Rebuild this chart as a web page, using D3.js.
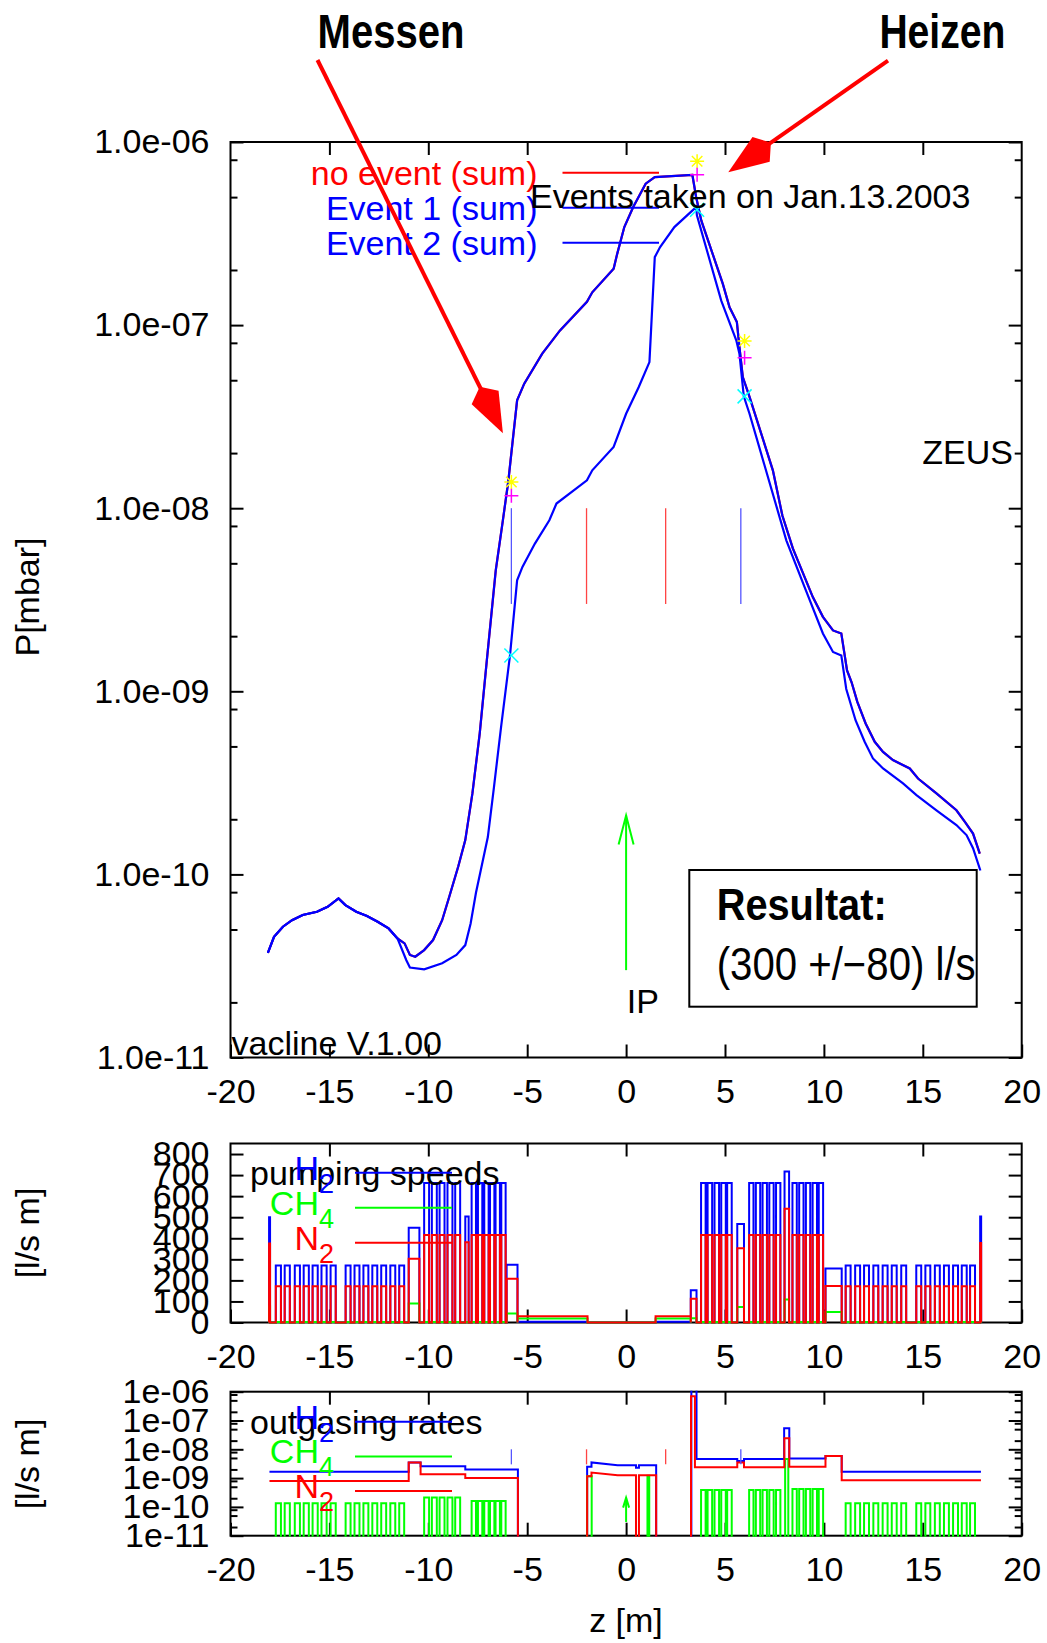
<!DOCTYPE html>
<html>
<head>
<meta charset="utf-8">
<script src="https://cdn.jsdelivr.net/npm/d3@7"></script>
<style>
  body { margin: 0; background: #fff; }
  svg text { font-family: "Liberation Sans", Arial, Helvetica, sans-serif; }
</style>
</head>
<body>
<div id="chart"></div>
<script>
// ---- data ----
var zTicks = [-20, -15, -10, -5, 0, 5, 10, 15, 20];
var pTicks = [1e-6, 1e-7, 1e-8, 1e-9, 1e-10, 1e-11];
var pTickLabels = ["1.0e-06", "1.0e-07", "1.0e-08", "1.0e-09", "1.0e-10", "1.0e-11"];
var rateTickLabels = ["1e-06", "1e-07", "1e-08", "1e-09", "1e-10", "1e-11"];
var minorMantissas = [2, 5, 8];
var speedTicks = [0, 100, 200, 300, 400, 500, 600, 700, 800];

// pressure profiles [z in m, P in mbar]
var eventOne = [
  [-18.11, 3.73e-11], [-17.80, 4.56e-11], [-17.35, 5.18e-11], [-16.89, 5.62e-11],
  [-16.35, 6.0e-11], [-15.63, 6.25e-11], [-15.09, 6.65e-11], [-14.54, 7.4e-11],
  [-14.19, 6.8e-11], [-13.64, 6.25e-11], [-13.10, 5.92e-11], [-12.56, 5.51e-11],
  [-12.01, 5.07e-11], [-11.56, 4.47e-11], [-11.20, 4.2e-11], [-10.93, 3.63e-11],
  [-10.66, 3.55e-11], [-10.21, 3.86e-11], [-9.76, 4.38e-11], [-9.30, 5.62e-11],
  [-8.94, 7.55e-11], [-8.49, 1.1e-10], [-8.13, 1.54e-10], [-7.77, 2.77e-10],
  [-7.40, 5.89e-10], [-7.04, 1.48e-9], [-6.59, 4.58e-9], [-6.23, 8.59e-9],
  [-5.96, 1.39e-8], [-5.51, 3.88e-8], [-5.15, 4.79e-8], [-4.24, 6.98e-8],
  [-3.34, 9.35e-8], [-1.98, 1.34e-7], [-1.71, 1.51e-7], [-0.63, 2.03e-7],
  [-0.45, 2.45e-7], [-0.09, 3.43e-7], [0.36, 4.41e-7], [0.99, 5.92e-7],
  [1.45, 6.43e-7], [3.35, 6.62e-7], [3.54, 5.01e-7], [3.80, 3.73e-7],
  [4.89, 1.68e-7], [5.23, 1.25e-7], [5.60, 1.04e-7], [5.73, 7.59e-8],
  [5.90, 5.2e-8], [6.24, 4.05e-8], [7.42, 1.61e-8], [7.90, 9.12e-9],
  [8.43, 6.03e-9], [9.44, 3.27e-9], [9.95, 2.55e-9], [10.46, 2.15e-9],
  [10.88, 2.07e-9], [11.17, 1.3e-9], [11.40, 1.12e-9], [11.69, 8.75e-10],
  [12.11, 6.67e-10], [12.57, 5.3e-10], [12.99, 4.67e-10], [13.49, 4.21e-10],
  [14.34, 3.79e-10], [14.76, 3.34e-10], [15.69, 2.77e-10], [16.70, 2.24e-10],
  [17.12, 1.94e-10], [17.54, 1.67e-10], [17.88, 1.3e-10]
];
var eventTwo = [
  [-18.11, 3.73e-11], [-17.80, 4.56e-11], [-17.35, 5.18e-11], [-16.89, 5.62e-11],
  [-16.35, 6.0e-11], [-15.63, 6.25e-11], [-15.09, 6.65e-11], [-14.54, 7.4e-11],
  [-14.19, 6.8e-11], [-13.64, 6.25e-11], [-13.10, 5.92e-11], [-12.56, 5.51e-11],
  [-12.01, 5.07e-11], [-11.56, 4.47e-11], [-11.11, 3.4e-11], [-10.93, 3.1e-11],
  [-10.21, 3.03e-11], [-9.30, 3.27e-11], [-8.58, 3.63e-11], [-8.13, 4.11e-11],
  [-7.86, 5.4e-11], [-7.59, 7.94e-11], [-7.35, 1.05e-10], [-6.99, 1.6e-10],
  [-6.68, 3.0e-10], [-6.32, 6.4e-10], [-5.87, 1.57e-9], [-5.51, 4.04e-9],
  [-5.24, 4.78e-9], [-4.61, 6.41e-9], [-3.88, 8.59e-9], [-3.52, 1.06e-8],
  [-1.98, 1.42e-8], [-1.71, 1.61e-8], [-0.63, 2.16e-8], [0.0, 3.28e-8],
  [0.64, 4.59e-8], [1.18, 6.28e-8], [1.45, 2.35e-7], [1.72, 2.67e-7],
  [2.44, 3.43e-7], [3.54, 4.41e-7], [3.58, 3.98e-7], [4.81, 1.36e-7],
  [5.57, 8.26e-8], [5.73, 6.98e-8], [5.95, 4.08e-8], [6.24, 3.28e-8],
  [8.10, 6.68e-9], [9.02, 3.72e-9], [9.95, 2.07e-9], [10.46, 1.64e-9],
  [10.88, 1.57e-9], [11.13, 1.03e-9], [11.60, 6.95e-10], [12.06, 5.3e-10],
  [12.48, 4.3e-10], [12.99, 3.79e-10], [14.0, 3.14e-10], [14.68, 2.71e-10],
  [15.69, 2.24e-10], [16.70, 1.86e-10], [17.21, 1.64e-10], [17.54, 1.39e-10],
  [17.91, 1.05e-10]
];
var noEvent = eventOne; // lies right under Event 1

// gauge marks (vertical lines from 1e-8 to 3e-9)
var gaugeZ = [-5.8, -2, 2, 5.8];
var gaugeColors = ["#5555ff", "#ff4444", "#ff4444", "#5555ff"];
var gaugeRange = [1e-8, 3e-9];
var starPts = [[-5.8, 1.39e-8], [3.59, 7.85e-7], [5.99, 8.18e-8]];
var plusPts = [[-5.8, 1.17e-8], [3.59, 6.62e-7], [5.99, 6.64e-8]];
var crossPts = [[-5.8, 1.57e-9], [3.59, 4.27e-7], [5.99, 4.08e-8]];
var ipArrow = [0, 3e-11, 2.1e-10];

// pump elements, repeated pulses per group
var groupStarts = [
  [-17.71, -17.26, -16.75, -16.30, -15.85, -15.40, -14.94],
  [-14.18, -13.73, -13.28, -12.83, -12.38, -11.92, -11.47],
  [-10.21, -9.82, -9.43, -9.03, -8.64],
  [-7.81, -7.49, -7.17, -6.88, -6.60, -6.31],
  [3.79, 4.12, 4.47, 4.81, 5.11],
  [6.22, 6.56, 6.90, 7.24, 7.58],
  [8.41, 8.75, 9.09, 9.43, 9.74],
  [11.10, 11.58, 12.03, 12.50, 12.97, 13.43, 13.91],
  [14.67, 15.13, 15.61, 16.07, 16.53, 16.97, 17.39]
];
var groupWidth = [0.26, 0.25, 0.25, 0.22, 0.23, 0.22, 0.22, 0.25, 0.25];
var groupH2 = [271, 271, 663, 663, 663, 663, 663, 271, 271];
var groupCH4 = [2, 2, 2, 2, 2, 2, 2, 2, 2];
var groupN2 = [172, 172, 416, 416, 416, 416, 416, 172, 172];
var groupCH4Rate = [1.33e-10, 1.33e-10, 2.1e-10, 1.6e-10, 3.9e-10, 3.9e-10, 4.2e-10, 1.33e-10, 1.33e-10];

// single pump elements [z start, z end, H2, CH4, N2]
var pumpBlocks = [
  [-18.05, -18.0, 500, 77, 375],
  [-10.99, -10.45, 450, 90, 303],
  [-8.13, -7.96, 503, 2, 381],
  [-6.04, -5.49, 274, 43, 208],
  [-5.49, -1.95, 3, 19, 30],
  [1.49, 3.27, 3, 19, 30],
  [3.27, 3.56, 153, 20, 113],
  [5.62, 5.96, 468, 74, 353],
  [8.01, 8.24, 717, 109, 540],
  [10.08, 10.90, 256, 50, 173],
  [17.90, 17.95, 503, 2, 377]
];

// outgassing rates [z, q in l/s m]
var h2Rate = [
  [-18.03, 1.67e-9], [-10.99, 1.67e-9], [-10.99, 3.5e-9], [-10.39, 3.5e-9],
  [-10.39, 2.6e-9], [-8.13, 2.6e-9], [-8.13, 2.0e-9], [-5.47, 2.0e-9],
  [-5.47, 1e-13], [-1.97, 1e-13], [-1.97, 2.5e-9], [-1.75, 2.5e-9],
  [-1.75, 3.5e-9], [-0.43, 2.8e-9], [0.5, 2.8e-9], [0.5, 2.3e-9],
  [0.65, 2.3e-9], [0.65, 2.8e-9], [1.52, 2.8e-9], [1.52, 1e-13],
  [3.30, 1e-13], [3.30, 2e-6], [3.56, 2e-6], [3.56, 4.6e-9],
  [5.62, 4.6e-9], [5.62, 3.9e-9], [5.96, 3.9e-9], [5.96, 4.6e-9],
  [7.99, 4.6e-9], [7.99, 5.4e-8], [8.25, 5.4e-8], [8.25, 4.8e-9],
  [10.08, 4.8e-9], [10.08, 5.9e-9], [10.90, 5.9e-9], [10.90, 1.67e-9],
  [17.94, 1.67e-9]
];
var n2Rate = [
  [-18.03, 7.9e-10], [-10.99, 7.9e-10], [-10.99, 3.5e-9], [-10.39, 3.5e-9],
  [-10.39, 1.35e-9], [-8.13, 1.35e-9], [-8.13, 1.0e-9], [-5.47, 1.0e-9],
  [-5.47, 1e-13], [-1.97, 1e-13], [-1.97, 1.17e-9], [-1.75, 1.17e-9],
  [-1.75, 1.55e-9], [-0.43, 1.25e-9], [0.5, 1.25e-9], [0.5, 1e-13],
  [0.65, 1e-13], [0.65, 1.25e-9], [1.52, 1.25e-9], [1.52, 1e-13],
  [3.28, 1e-13], [3.28, 7e-7], [3.48, 7e-7], [3.48, 2.4e-9],
  [5.62, 2.4e-9], [5.62, 3.5e-9], [5.96, 3.5e-9], [5.96, 2.4e-9],
  [8.0, 2.4e-9], [8.0, 2.4e-8], [8.25, 2.4e-8], [8.25, 2.5e-9],
  [10.08, 2.5e-9], [10.08, 5.9e-9], [10.90, 5.9e-9], [10.90, 8.5e-10],
  [17.94, 8.5e-10]
];
var ch4RateExtra = [[-1.97, -1.74, 1.15e-9], [1.08, 1.17, 1.2e-9], [8.04, 8.2, 4.6e-9]];

// ---- layout ----
var W = 1047, H = 1643;
var svg = d3.select("#chart").append("svg")
    .attr("width", W).attr("height", H);

var left = 230.5, right = 1021.7;
var x = d3.scaleLinear().domain([-20, 20]).range([left, right]);

var main = {top: 142, bottom: 1057.5};
var yMain = d3.scaleLog().domain([1e-11, 1e-6]).range([main.bottom, main.top]);
var pump = {top: 1143.5, bottom: 1322.5};
var yPump = d3.scaleLinear().domain([0, 850]).range([pump.bottom, pump.top]);
var rate = {top: 1391.7, bottom: 1535.7};
var yRate = d3.scaleLog().domain([1e-11, 1e-6]).range([rate.bottom, rate.top]);

function logMinors() {
  var m = [];
  for (var e = -11; e < -6; e++) {
    minorMantissas.forEach(function(k) { m.push(k * Math.pow(10, e)); });
  }
  return m;
}

function styleAxis(g) {
  g.select(".domain").remove();
  g.selectAll(".tick line").attr("stroke", "#000").attr("stroke-width", 2);
  g.selectAll("text").attr("font-size", 34).attr("fill", "#000")
    .style("font-family", '"Liberation Sans", Arial, sans-serif');
}

function frame(box, y, yTicks, yLabels, minors) {
  var g = svg.append("g");
  var h = box.bottom - box.top;
  // plain hyphen minus like gnuplot
  g.append("g").attr("transform", "translate(0," + box.bottom + ")")
    .call(d3.axisBottom(x).tickValues(zTicks).tickSize(-13).tickSizeOuter(0).tickPadding(21)
      .tickFormat(function(d) { return String(d); }))
    .call(styleAxis);
  g.append("g").attr("transform", "translate(0," + box.top + ")")
    .call(d3.axisTop(x).tickValues(zTicks.slice(1, -1)).tickSize(-13).tickSizeOuter(0).tickFormat(""))
    .call(styleAxis);
  g.append("g").attr("transform", "translate(" + left + ",0)")
    .call(d3.axisLeft(y).tickValues(yTicks).tickSize(-13).tickSizeOuter(0).tickPadding(21)
      .tickFormat(function(d, i) { return yLabels[i]; }))
    .call(styleAxis);
  g.append("g").attr("transform", "translate(" + right + ",0)")
    .call(d3.axisRight(y).tickValues(yTicks).tickSize(-13).tickSizeOuter(0).tickFormat(""))
    .call(styleAxis);
  if (minors) {
    g.append("g").attr("transform", "translate(" + left + ",0)")
      .call(d3.axisLeft(y).tickValues(minors).tickSize(-7).tickSizeOuter(0).tickFormat(""))
      .call(styleAxis);
    g.append("g").attr("transform", "translate(" + right + ",0)")
      .call(d3.axisRight(y).tickValues(minors).tickSize(-7).tickSizeOuter(0).tickFormat(""))
      .call(styleAxis);
  }
  g.append("rect").attr("x", left).attr("y", box.top)
    .attr("width", right - left).attr("height", h)
    .attr("fill", "none").attr("stroke", "#000").attr("stroke-width", 2);
  return g;
}

function clipFor(id, box) {
  svg.append("clipPath").attr("id", id).append("rect")
    .attr("x", left).attr("y", box.top - 1)
    .attr("width", right - left).attr("height", box.bottom - box.top + 2);
}
clipFor("clipMain", main);
clipFor("clipRate", rate);

function lineFor(y) {
  return d3.line().x(function(d) { return x(d[0]); }).y(function(d) { return y(d[1]); });
}

function addText(str, px, py, opts) {
  opts = opts || {};
  var t = svg.append("text").attr("x", px).attr("y", py)
    .attr("font-size", opts.size || 34)
    .attr("fill", opts.color || "#000")
    .attr("text-anchor", opts.anchor || "start")
    .text(str);
  if (opts.bold) t.attr("font-weight", "bold");
  if (opts.len) t.attr("textLength", opts.len).attr("lengthAdjust", "spacingAndGlyphs");
  if (opts.rotate) t.attr("transform", "rotate(-90," + px + "," + py + ")").attr("text-anchor", "middle");
  return t;
}

function gasLabel(px, py, base, sub, color) {
  var t = svg.append("text").attr("x", px).attr("y", py)
    .attr("font-size", 34).attr("fill", color).attr("text-anchor", "end");
  t.append("tspan").text(base);
  t.append("tspan").attr("font-size", 27).attr("dy", 13).text(sub);
}

function drawArrowHead(g, x0, y0, x1, y1, color) {
  // diamond head as used by gnuplot's filled heads
  var dx = x1 - x0, dy = y1 - y0, len = Math.sqrt(dx * dx + dy * dy);
  var ux = dx / len, uy = dy / len, nx = -uy, ny = ux;
  var pts = [
    [x1, y1],
    [x1 - 40 * ux + 15 * nx, y1 - 40 * uy + 15 * ny],
    [x1 - 52 * ux, y1 - 52 * uy],
    [x1 - 40 * ux - 15 * nx, y1 - 40 * uy - 15 * ny]
  ];
  g.append("line").attr("x1", x0).attr("y1", y0)
    .attr("x2", x1 - 45 * ux).attr("y2", y1 - 45 * uy)
    .attr("stroke", color).attr("stroke-width", 4);
  g.append("polygon").attr("points", pts.map(function(p) { return p.join(","); }).join(" "))
    .attr("fill", color);
}

function gaugeMarks(y) {
  gaugeZ.forEach(function(z, i) {
    svg.append("line")
      .attr("x1", x(z)).attr("x2", x(z))
      .attr("y1", y(gaugeRange[0])).attr("y2", y(gaugeRange[1]))
      .attr("stroke", gaugeColors[i]).attr("stroke-width", 1.3);
  });
}

function ipArrowOn(y, headLen, headW) {
  var ax = x(ipArrow[0]), yb = y(ipArrow[1]), yt = y(ipArrow[2]);
  svg.append("line").attr("x1", ax).attr("x2", ax).attr("y1", yb).attr("y2", yt)
    .attr("stroke", "#00ff00").attr("stroke-width", 2);
  svg.append("path")
    .attr("d", "M" + (ax - headW) + "," + (yt + headLen) + "L" + ax + "," + yt + "L" + (ax + headW) + "," + (yt + headLen))
    .attr("fill", "none").attr("stroke", "#00ff00").attr("stroke-width", 2);
}

// ---- main pressure plot ----
frame(main, yMain, pTicks, pTickLabels, logMinors());

var pLine = lineFor(yMain);
var curves = svg.append("g").attr("clip-path", "url(#clipMain)");
curves.append("path").datum(noEvent).attr("d", pLine)
  .attr("fill", "none").attr("stroke", "#ff0000").attr("stroke-width", 2.2);
curves.append("path").datum(eventTwo).attr("d", pLine)
  .attr("fill", "none").attr("stroke", "#0000ff").attr("stroke-width", 2.2);
curves.append("path").datum(eventOne).attr("d", pLine)
  .attr("fill", "none").attr("stroke", "#0000ff").attr("stroke-width", 2.2);

gaugeMarks(yMain);

// point markers
var ms = 7;
starPts.forEach(function(d) {
  var cx = x(d[0]), cy = yMain(d[1]);
  svg.append("path")
    .attr("d", "M" + (cx - ms) + "," + cy + "h" + 2 * ms + "M" + cx + "," + (cy - ms) + "v" + 2 * ms +
      "M" + (cx - ms * 0.75) + "," + (cy - ms * 0.75) + "l" + 1.5 * ms + "," + 1.5 * ms +
      "M" + (cx - ms * 0.75) + "," + (cy + ms * 0.75) + "l" + 1.5 * ms + "," + (-1.5 * ms))
    .attr("stroke", "#ffff00").attr("stroke-width", 1.5);
});
plusPts.forEach(function(d) {
  var cx = x(d[0]), cy = yMain(d[1]);
  svg.append("path")
    .attr("d", "M" + (cx - ms) + "," + cy + "h" + 2 * ms + "M" + cx + "," + (cy - ms) + "v" + 2 * ms)
    .attr("stroke", "#ff00ff").attr("stroke-width", 1.5);
});
crossPts.forEach(function(d) {
  var cx = x(d[0]), cy = yMain(d[1]);
  svg.append("path")
    .attr("d", "M" + (cx - ms) + "," + (cy - ms) + "l" + 2 * ms + "," + 2 * ms +
      "M" + (cx - ms) + "," + (cy + ms) + "l" + 2 * ms + "," + (-2 * ms))
    .attr("stroke", "#00ffff").attr("stroke-width", 1.5);
});

ipArrowOn(yMain, 29, 7.5);
addText("IP", 626.7, 1013);

// legend
var mainKeys = [["no event (sum)", "#ff0000"], ["Event 1 (sum)", "#0000ff"], ["Event 2 (sum)", "#0000ff"]];
mainKeys.forEach(function(k, i) {
  var ly = 172.7 + i * 35;
  addText(k[0], 537.5, ly + 12, {color: k[1], anchor: "end"});
  svg.append("line").attr("x1", 562.5).attr("x2", 659).attr("y1", ly).attr("y2", ly)
    .attr("stroke", k[1]).attr("stroke-width", 2);
});

addText("Events taken on Jan.13.2003", 530, 208.3);
addText("ZEUS", 1013, 464, {anchor: "end"});
addText("vacline V.1.00", 231.5, 1055);

// result box
svg.append("rect").attr("x", 689.3).attr("y", 870).attr("width", 287.4).attr("height", 136.7)
  .attr("fill", "none").attr("stroke", "#000").attr("stroke-width", 2);
addText("Resultat:", 716.7, 920, {size: 44, bold: true, len: 170});
addText("(300 +/\u221280) l/s", 716.7, 980, {size: 46, len: 259});

// annotations with red arrows
addText("Messen", 317.6, 48.3, {size: 49, bold: true, len: 147});
addText("Heizen", 879.4, 48.3, {size: 49, bold: true, len: 126});
var arrows = svg.append("g");
drawArrowHead(arrows, 317.5, 60, 502.9, 433.3, "#ff0000");
drawArrowHead(arrows, 888, 60.7, 728.3, 172.3, "#ff0000");

addText("P[mbar]", 39, 597, {rotate: true});

// ---- pumping speeds ----
frame(pump, yPump, speedTicks, speedTicks.map(String), null);

var pumpSegments = [];
groupStarts.forEach(function(starts, gi) {
  starts.forEach(function(s) {
    pumpSegments.push([s, s + groupWidth[gi], groupH2[gi], groupCH4[gi], groupN2[gi]]);
  });
});
pumpBlocks.forEach(function(b) { pumpSegments.push(b); });
pumpSegments.sort(function(a, b) { return a[0] - b[0]; });

function stepPoints(segs, col, floor) {
  var pts = [];
  segs.forEach(function(s) {
    pts.push([s[0], floor], [s[0], s[col]], [s[1], s[col]], [s[1], floor]);
  });
  return pts;
}

var sLine = lineFor(yPump);
[[2, "#0000ff"], [3, "#00ff00"], [4, "#ff0000"]].forEach(function(c) {
  svg.append("path").datum(stepPoints(pumpSegments, c[0], 0)).attr("d", sLine)
    .attr("fill", "none").attr("stroke", c[1]).attr("stroke-width", 2);
});

addText("pumping speeds", 250, 1185);
var gasKeys = [["H", "2", "#0000ff"], ["CH", "4", "#00ff00"], ["N", "2", "#ff0000"]];
gasKeys.forEach(function(k, i) {
  var ly = 1172.7 + i * 35;
  gasLabel(334, ly + 7.5, k[0], k[1], k[2]);
  svg.append("line").attr("x1", 355).attr("x2", 452).attr("y1", ly).attr("y2", ly)
    .attr("stroke", k[2]).attr("stroke-width", 2);
});
addText("[l/s m]", 39, 1233, {rotate: true});

// ---- outgasing rates ----
frame(rate, yRate, pTicks, rateTickLabels, logMinors());

var rLine = lineFor(yRate);
var ch4Segments = [];
groupStarts.forEach(function(starts, gi) {
  starts.forEach(function(s) {
    ch4Segments.push([s, s + groupWidth[gi], groupCH4Rate[gi]]);
  });
});
ch4RateExtra.forEach(function(e) { ch4Segments.push(e); });
ch4Segments.sort(function(a, b) { return a[0] - b[0]; });

var rates = svg.append("g").attr("clip-path", "url(#clipRate)");
rates.append("path").datum(h2Rate).attr("d", rLine)
  .attr("fill", "none").attr("stroke", "#0000ff").attr("stroke-width", 2);
rates.append("path").datum(stepPoints(ch4Segments, 2, 1e-13)).attr("d", rLine)
  .attr("fill", "none").attr("stroke", "#00ff00").attr("stroke-width", 2);
rates.append("path").datum(n2Rate).attr("d", rLine)
  .attr("fill", "none").attr("stroke", "#ff0000").attr("stroke-width", 2);

gaugeMarks(yRate);
ipArrowOn(yRate, 10, 3);

addText("outgasing rates", 250, 1434);
gasKeys.forEach(function(k, i) {
  var ly = 1421.7 + i * 34.7;
  gasLabel(334, ly + 7, k[0], k[1], k[2]);
  svg.append("line").attr("x1", 355).attr("x2", 452).attr("y1", ly).attr("y2", ly)
    .attr("stroke", k[2]).attr("stroke-width", 2);
});
addText("[l/s m]", 39, 1464, {rotate: true});

addText("z [m]", 626, 1632, {anchor: "middle"});
</script>
</body>
</html>
